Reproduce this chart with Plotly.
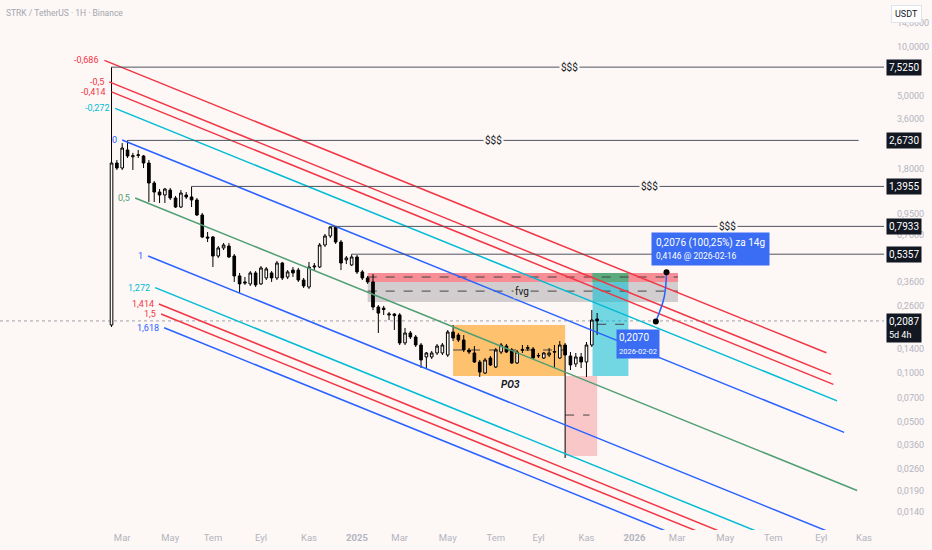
import numpy as np
import pandas as pd
import plotly.graph_objects as go

# weekly candles STRK/USDT (Binance)
dates = pd.date_range("2024-02-19", periods=92, freq="7D")
opens = [
    0.197, 1.942, 1.810, 2.334, 2.12, 2.16, 2.144, 1.942, 1.464, 1.289,
    1.236, 1.325, 1.185, 1.043, 1.236, 1.202, 1.152, 0.932, 0.683, 0.683,
    0.522, 0.585, 0.601, 0.522, 0.394, 0.362, 0.352, 0.411, 0.352, 0.383,
    0.411, 0.383, 0.473, 0.388, 0.428, 0.428, 0.372, 0.337, 0.447, 0.447,
    0.610, 0.693, 0.787, 0.636, 0.494, 0.460, 0.515, 0.417, 0.383, 0.362,
    0.254, 0.250, 0.227, 0.230, 0.227, 0.153, 0.176, 0.1663, 0.1485, 0.1254,
    0.1254, 0.1327, 0.1327, 0.129, 0.1785, 0.171, 0.1594, 0.1384, 0.1327, 0.1168,
    0.100, 0.1236, 0.1088, 0.1345, 0.1464, 0.1384, 0.1152, 0.1375, 0.1415, 0.1404,
    0.1272, 0.1236, 0.129, 0.1355, 0.1236, 0.1485, 0.1272, 0.1136, 0.1254, 0.1168,
    0.1485, 0.2145]
highs = [
    7.525, 2.026, 2.576, 2.673, 2.241, 2.334, 2.175, 2.026, 1.506, 1.345,
    1.365, 1.365, 1.219, 1.325, 1.289, 1.3955, 1.185, 0.959, 0.733, 0.693,
    0.601, 0.627, 0.627, 0.537, 0.411, 0.388, 0.422, 0.422, 0.453, 0.447,
    0.422, 0.487, 0.480, 0.428, 0.447, 0.441, 0.383, 0.480, 0.473, 0.627,
    0.713, 0.7933, 0.798, 0.655, 0.522, 0.5357, 0.530, 0.428, 0.394, 0.405,
    0.261, 0.258, 0.237, 0.233, 0.233, 0.189, 0.181, 0.171, 0.1528, 0.1345,
    0.1365, 0.1506, 0.1528, 0.1835, 0.197, 0.176, 0.171, 0.1424, 0.1464, 0.1202,
    0.1236, 0.1272, 0.1424, 0.1528, 0.1506, 0.1424, 0.1384, 0.1485, 0.1485, 0.1444,
    0.1327, 0.1345, 0.1424, 0.1485, 0.1571, 0.1528, 0.1345, 0.1327, 0.1327, 0.1549,
    0.2434, 0.2334]
lows = [
    0.1915, 1.760, 1.760, 2.085, 1.760, 2.085, 1.810, 1.120, 1.120, 1.104,
    1.104, 1.152, 1.029, 1.029, 1.168, 1.043, 0.919, 0.673, 0.636, 0.447,
    0.508, 0.568, 0.508, 0.362, 0.310, 0.347, 0.342, 0.337, 0.347, 0.372,
    0.362, 0.372, 0.372, 0.377, 0.388, 0.362, 0.332, 0.328, 0.428, 0.441,
    0.593, 0.673, 0.619, 0.428, 0.466, 0.453, 0.405, 0.372, 0.352, 0.243,
    0.176, 0.227, 0.211, 0.1835, 0.1485, 0.1485, 0.1616, 0.1444, 0.1073, 0.1073,
    0.1219, 0.129, 0.129, 0.1254, 0.1571, 0.1549, 0.1345, 0.1308, 0.1152, 0.0945,
    0.0986, 0.1104, 0.1073, 0.1308, 0.1327, 0.1136, 0.1136, 0.1327, 0.1365, 0.1219,
    0.1236, 0.1219, 0.1254, 0.1073, 0.1219, 0.0301, 0.1043, 0.1088, 0.1073, 0.0945,
    0.1444, 0.171]
closes = [
    1.942, 1.810, 2.400, 2.144, 2.15, 2.18, 1.942, 1.464, 1.289, 1.236,
    1.345, 1.185, 1.043, 1.271, 1.202, 1.152, 0.932, 0.683, 0.673, 0.522,
    0.585, 0.610, 0.515, 0.394, 0.352, 0.357, 0.411, 0.347, 0.441, 0.435,
    0.383, 0.473, 0.383, 0.417, 0.411, 0.372, 0.342, 0.447, 0.453, 0.610,
    0.693, 0.787, 0.636, 0.473, 0.508, 0.515, 0.417, 0.383, 0.362, 0.254,
    0.233, 0.245, 0.230, 0.225, 0.1528, 0.176, 0.1663, 0.1485, 0.1202, 0.1327,
    0.1327, 0.1464, 0.1485, 0.1785, 0.1639, 0.1594, 0.1384, 0.1345, 0.1168, 0.1014,
    0.1202, 0.1120, 0.1384, 0.1485, 0.1345, 0.1152, 0.1345, 0.1395, 0.1432, 0.1236,
    0.1280, 0.1327, 0.1327, 0.1345, 0.1485, 0.129, 0.1120, 0.1254, 0.1168, 0.1485,
    0.2114, 0.2087]

# fib channel: anchor A (level 0 start), B (level 0 end), C (level 1 start)
fib_a_date, fib_a_price = "2024-03-04", 2.69
fib_b_date, fib_b_price = "2026-10-07", 0.0432
fib_c_date, fib_c_price = "2024-04-07", 0.522
fib_levels = [-0.686, -0.5, -0.414, -0.272, 0, 0.5, 1, 1.272, 1.414, 1.5, 1.618]
fib_labels = ["-0,686", "-0,5", "-0,414", "-0,272", "0", "0,5", "1", "1,272", "1,414", "1,5", "1,618"]

# horizontal "$$$" levels
hl_prices = [7.525, 2.673, 1.3955, 0.7933, 0.5357]
hl_start = ["2024-02-19", "2024-03-11", "2024-06-03", "2024-12-02", "2024-12-30"]
hl_end = ["2027-06-01", "2026-10-26", "2027-06-01", "2027-06-01", "2027-06-01"]
hl_text_date = ["2025-10-12", "2025-07-04", "2026-01-25", "2026-05-07", "2026-06-09"]

# zones: premium, fvg, PO3 range, stop, target, target top
box_start = ["2025-01-20", "2025-01-20", "2025-05-12", "2025-10-06", "2025-11-11", "2025-11-11"]
box_end = ["2026-03-03", "2026-03-03", "2025-10-06", "2025-11-17", "2025-12-28", "2025-12-28"]
box_low = [0.3616, 0.2726, 0.0958, 0.0310, 0.0958, 0.3616]
box_high = [0.4106, 0.3616, 0.197, 0.0958, 0.4106, 0.4106]
mid_start = ["2025-01-20", "2025-01-20", "2025-05-12", "2025-10-06", "2025-11-17"]
mid_end = ["2026-03-03", "2026-03-03", "2025-10-06", "2025-11-07", "2025-12-28"]
mid_price = [0.388, 0.318, 0.1384, 0.0552, 0.199]

# projection
fc_dates = ["2026-02-02", "2026-02-13", "2026-02-16"]
fc_prices = [0.2070, 0.2926, 0.4146]

x_ticks = ["2024-03-04", "2024-05-06", "2024-07-01", "2024-09-02", "2024-11-04", "2025-01-06",
           "2025-03-03", "2025-05-05", "2025-07-07", "2025-09-01", "2025-11-03", "2026-01-05",
           "2026-03-02", "2026-05-04", "2026-07-06", "2026-09-07", "2026-11-02"]
x_labels = ["Mar", "May", "Tem", "Eyl", "Kas", "<b>2025</b>", "Mar", "May", "Tem", "Eyl", "Kas",
            "<b>2026</b>", "Mar", "May", "Tem", "Eyl", "Kas"]
y_ticks = [14, 10, 5, 3.6, 1.8, 0.95, 0.7, 0.36, 0.26, 0.14, 0.1, 0.07, 0.05, 0.036, 0.026, 0.019, 0.014]

BG = "#fdf7f6"
RED = "#f23645"
CYAN = "#00bcd4"
BLUE = "#2962ff"
GREEN = "#4f9f73"
fib_colors = [RED, RED, RED, CYAN, BLUE, GREEN, BLUE, CYAN, RED, RED, BLUE]
box_fill = ["rgba(242,54,69,0.55)", "rgba(120,120,125,0.32)", "rgba(255,152,0,0.55)",
            "rgba(242,54,69,0.25)", "rgba(0,188,212,0.55)", "rgba(76,175,80,0.55)"]


def fmt(v):
    return f"{v:.4f}".replace(".", ",")


fig = go.Figure()

for x0, x1, lo, hi, col in zip(box_start, box_end, box_low, box_high, box_fill):
    fig.add_shape(type="rect", xref="x", yref="y", x0=x0, x1=x1, y0=lo, y1=hi,
                  fillcolor=col, line_width=0, layer="below")
for x0, x1, p in zip(mid_start, mid_end, mid_price):
    fig.add_shape(type="line", xref="x", yref="y", x0=x0, x1=x1, y0=p, y1=p,
                  line=dict(color="#444444", width=1, dash="dash"), layer="below")

# current price line
fig.add_shape(type="line", xref="paper", yref="y", x0=0, x1=1, y0=closes[-1], y1=closes[-1],
              line=dict(color="#a0a0a8", width=1, dash="dot"), layer="below")

# fib channel
a_t, b_t = pd.Timestamp(fib_a_date), pd.Timestamp(fib_b_date)
dt = pd.Timestamp(fib_c_date) - a_t
la, lb = np.log10(fib_a_price), np.log10(fib_b_price)
dl = np.log10(fib_c_price) - la
for lv, lab, col in zip(fib_levels, fib_labels, fib_colors):
    xs = [(a_t + dt * lv).strftime("%Y-%m-%d %H:%M"), (b_t + dt * lv).strftime("%Y-%m-%d %H:%M")]
    ls = [la + lv * dl, lb + lv * dl]
    fig.add_trace(go.Scatter(x=xs, y=[10 ** v for v in ls], mode="lines",
                             line=dict(color=col, width=1.5), hoverinfo="skip", showlegend=False))
    fig.add_annotation(x=xs[0], y=ls[0], text=lab, xanchor="right", xshift=-3, showarrow=False,
                       font=dict(color=col, size=9))

# $$$ levels
for p, x0, x1, xt in zip(hl_prices, hl_start, hl_end, hl_text_date):
    fig.add_trace(go.Scatter(x=[x0, x1], y=[p, p], mode="lines", line=dict(color="#50535e", width=1),
                             hoverinfo="skip", showlegend=False))
    fig.add_annotation(x=xt, y=np.log10(p), text="$$$", showarrow=False, bgcolor=BG, borderpad=1,
                       font=dict(color="#131722", size=10))

fig.add_trace(go.Candlestick(
    x=dates, open=opens, high=highs, low=lows, close=closes,
    increasing=dict(fillcolor="#ffffff", line=dict(color="#000000", width=1)),
    decreasing=dict(fillcolor="#000000", line=dict(color="#000000", width=1)),
    whiskerwidth=0, hoverinfo="skip", showlegend=False))

# projection path
fig.add_trace(go.Scatter(x=fc_dates, y=fc_prices, mode="lines", line=dict(color=BLUE, width=1.5, shape="spline"),
                         hoverinfo="skip", showlegend=False))
fig.add_trace(go.Scatter(x=[fc_dates[0], fc_dates[-1]], y=[fc_prices[0], fc_prices[-1]], mode="markers",
                         marker=dict(color="#000000", size=6), hoverinfo="skip", showlegend=False))

fig.add_annotation(x="2025-08-10", y=np.log10(mid_price[1]), text="fvg", showarrow=False,
                   bgcolor="#d2cfcf", borderpad=1, font=dict(color="#131722", size=10))
fig.add_annotation(x="2025-07-27", y=np.log10(0.0856), text="<b><i>PO3</i></b>", showarrow=False,
                   font=dict(color="#131722", size=10))

fig.add_annotation(x=fc_dates[-1], y=np.log10(fc_prices[-1]), xanchor="left", yanchor="bottom",
                   xshift=-16, yshift=6, align="left", showarrow=False, bgcolor="#3a6cf4", borderpad=4,
                   text="0,2076 (100,25%) za 14g<br><span style='font-size:8.5px'>0,4146 @ 2026-02-16</span>",
                   font=dict(color="#ffffff", size=10))
fig.add_annotation(x=fc_dates[0], y=np.log10(fc_prices[0]), xanchor="left", yanchor="top",
                   xshift=-40, yshift=-7, align="left", showarrow=False, bgcolor="#3a6cf4", borderpad=2,
                   text="0,2070<br><span style='font-size:7.5px'>2026-02-02</span>",
                   font=dict(color="#ffffff", size=10))

# price scale labels
for p in hl_prices:
    fig.add_annotation(xref="paper", x=1, y=np.log10(p), xanchor="left", xshift=2, showarrow=False,
                       text=fmt(p), bgcolor="#131722", borderpad=2, font=dict(color="#ffffff", size=10))
fig.add_annotation(xref="paper", x=1, y=np.log10(closes[-1]), xanchor="left", yanchor="top", xshift=2,
                   yshift=8, showarrow=False, align="left", bgcolor="#131722", borderpad=2,
                   text=fmt(closes[-1]) + "<br><span style='font-size:9px'>5d 4h</span>",
                   font=dict(color="#ffffff", size=10))
fig.add_annotation(xref="paper", yref="paper", x=1, y=1, xanchor="left", yanchor="top", xshift=7, yshift=-5,
                   showarrow=False, text="USDT", bgcolor="#ffffff", bordercolor="#e0e3eb", borderpad=3,
                   font=dict(color="#131722", size=9))
fig.add_annotation(xref="paper", yref="paper", x=0, y=1, xanchor="left", yanchor="top", xshift=4, yshift=-6,
                   showarrow=False, text="STRK / TetherUS · 1H · Binance", font=dict(color="#a4a7b0", size=8.5))

fig.update_layout(
    template="none", width=932, height=550,
    margin=dict(l=0, r=48, t=0, b=20),
    paper_bgcolor=BG, plot_bgcolor=BG,
    font=dict(family="Roboto"),
    showlegend=False, dragmode=False,
    xaxis=dict(type="date", range=["2023-09-25 17:00", "2026-11-28 07:00"], tickvals=x_ticks,
               ticktext=x_labels, showgrid=False, zeroline=False, showline=False, ticks="",
               tickfont=dict(color="#b2b5be", size=9.5), rangeslider=dict(visible=False), automargin=False),
    yaxis=dict(type="log", side="right", range=[-320 / 163, 210 / 163], autorange=False,
               tickvals=y_ticks, ticktext=[fmt(v) for v in y_ticks], showgrid=False, zeroline=False,
               showline=False, ticks="", ticklabelstandoff=12, tickfont=dict(color="#b2b5be", size=9),
               automargin=False),
)

fig.write_html("out.html", config={"displayModeBar": False},
               post_script="document.body.style.margin='0';document.body.style.background='" + BG + "';")
